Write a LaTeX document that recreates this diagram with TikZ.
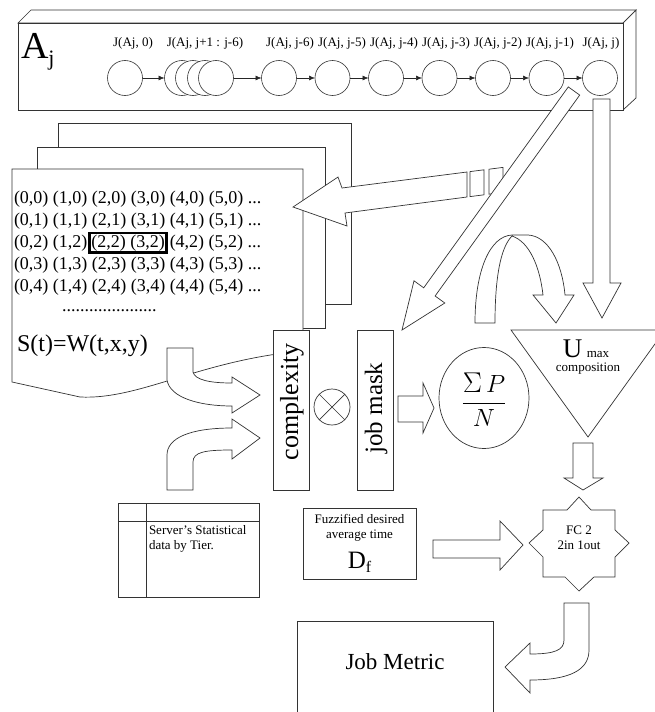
\documentclass[tikz,border=0pt]{standalone}
\usepackage{fontspec}
\setmainfont{Liberation Serif}
\usetikzlibrary{arrows.meta,shapes.geometric}
\begin{document}
\begin{tikzpicture}[x=1pt,y=-1pt,
  every node/.style={inner sep=0pt, outer sep=0pt},
  shp/.style={draw=black!80, line width=0.7pt, fill=white, line join=miter},
  jc/.style={circle, draw=black!80, line width=0.6pt, fill=white, minimum size=35pt},
  jl/.style={font=\fontsize{13}{13}\selectfont},
  small/.style={font=\fontsize{13}{15}\selectfont},
  row/.style={anchor=base west, font=\fontsize{18}{22}\selectfont},
  jarr/.style={-{Latex[length=6pt,width=5pt]}, line width=0.6pt, draw=black!85}
]
\useasboundingbox (0,0) rectangle (655,712);

% ---------- top box A_j ----------
\draw[shp] (18,23) -- (31,10) -- (636,10) -- (623,23) -- cycle;
\draw[shp] (623,23) -- (636,10) -- (636,98) -- (623,110) -- cycle;
\node[shp, minimum width=605pt, minimum height=87pt] (abox) at (320.5,66.5) {};
\node[anchor=base west, font=\fontsize{38}{38}\selectfont] (aj) at (21,58) {A\raisebox{-7pt}{\fontsize{22}{22}\selectfont j}};

\node[jc] (n0) at (125,78) {};
\node[jc] (s1) at (182,78) {};
\node[jc] (s2) at (193,78) {};
\node[jc] (s3) at (205,78) {};
\node[jc] (s4) at (216,78) {};
\node[jc] (m6) at (279,78) {};
\node[jc] (m5) at (332.5,78) {};
\node[jc] (m4) at (386,78) {};
\node[jc] (m3) at (439.5,78) {};
\node[jc] (m2) at (493,78) {};
\node[jc] (m1) at (546.5,78) {};
\node[jc] (mj) at (600,78) {};

\draw[jarr] (n0) -- (s1);
\draw[jarr] (s4) -- (m6);
\draw[jarr] (m6) -- (m5);
\draw[jarr] (m5) -- (m4);
\draw[jarr] (m4) -- (m3);
\draw[jarr] (m3) -- (m2);
\draw[jarr] (m2) -- (m1);
\draw[jarr] (m1) -- (mj);

\node[jl] (l0) at (133,43) {J(Aj, 0)};
\node[jl] (ls) at (205,43) {J(Aj, j+1 : j-6)};
\node[jl] (l6) at (290,43) {J(Aj, j-6)};
\node[jl] (l5) at (342,43) {J(Aj, j-5)};
\node[jl] (l4) at (394,43) {J(Aj, j-4)};
\node[jl] (l3) at (446,43) {J(Aj, j-3)};
\node[jl] (l2) at (498,43) {J(Aj, j-2)};
\node[jl] (l1) at (550,43) {J(Aj, j-1)};
\node[jl] (lj) at (601,43) {J(Aj, j)};

% ---------- stacked pages ----------
\draw[shp] (58,123) rectangle (351,304);
\draw[shp] (37,147) rectangle (325,328);
\draw[shp] (12,169) -- (303,169) -- (303,351) .. controls (200,360) and (140,400) .. (80,397) -- (12,382) -- cycle;

\node[row] (r0) at (14,203) {(0,0) (1,0) (2,0) (3,0) (4,0) (5,0) ...};
\node[row] (r1) at (14,225) {(0,1) (1,1) (2,1) (3,1) (4,1) (5,1) ...};
\node[row] (r2) at (14,247) {(0,2) (1,2)\hspace{1pt}{\setlength\fboxsep{0.3pt}\setlength\fboxrule{2.6pt}\fbox{(2,2) (3,2)}}\hspace{2pt}(4,2) (5,2) ...};
\node[row] (r3) at (14,269) {(0,3) (1,3) (2,3) (3,3) (4,3) (5,3) ...};
\node[row] (r4) at (14,291) {(0,4) (1,4) (2,4) (3,4) (4,4) (5,4) ...};
\node[row] (dots) at (62,311) {.....................};
\node[anchor=base west, font=\fontsize{24}{24}\selectfont] (st) at (17,351) {S(t)=W(t,x,y)};

% ---------- left-pointing arrow to the pages ----------
\draw[shp] (467,172) -- (342,188) -- (338,177) -- (293,207) -- (347,226) -- (345,213) -- (467,197) -- cycle;
\draw[shp] (470,171.6) -- (484,169.8) -- (484,194.8) -- (470,196.6) -- cycle;
\draw[shp] (489,169.2) -- (503,167.4) -- (503,192.4) -- (489,194.2) -- cycle;

% ---------- diagonal arrow ----------
\draw[shp] (568.3,86.9) -- (579.7,95.1) -- (435.1,296.0) -- (444.8,303.0) -- (402,330) -- (414.0,280.8) -- (423.7,287.8) -- cycle;

% ---------- vertical arrow ----------
\draw[shp] (593,99) -- (610,99) -- (610,283) -- (621,283) -- (602,318) -- (583,283) -- (593,283) -- cycle;

% ---------- U-turn arrow ----------
\draw[shp] (475,323) .. controls (475,270) and (490,236) .. (512,235) -- (528,235)
  .. controls (548,236) and (562,262) .. (565,295) -- (574,295) -- (556,323) -- (533,295) -- (543,295)
  .. controls (540,268) and (530,242) .. (512,236)
  .. controls (500,248) and (495,280) .. (495,323) -- cycle;

% ---------- complexity / job mask ----------
\node[shp, minimum width=36pt, minimum height=160pt] (cx) at (291,410) {};
\node[rotate=90, font=\fontsize{26}{26}\selectfont] (cxt) at (292,402) {complexity};
\node[shp, minimum width=36pt, minimum height=160pt] (jm) at (375,410) {};
\node[rotate=90, font=\fontsize{25}{25}\selectfont] (jmt) at (376,408) {job mask};
\node[circle, draw=black!80, line width=0.7pt, minimum size=36pt] (ot) at (332,407) {};
\draw[line width=0.7pt, draw=black!80] (ot.north west) -- (ot.south east) (ot.north east) -- (ot.south west);

% ---------- curved arrows into complexity ----------
\draw[shp] (167,348) -- (167,380) .. controls (170,398) and (200,406) .. (232,406) -- (232,413) -- (260,395) -- (232,377) -- (232,383)
  .. controls (210,383) and (195,380) .. (193,372) -- (193,348) -- cycle;
\draw[shp] (167,490) -- (167,455) .. controls (167,438) and (190,428) .. (232,428) -- (232,419) -- (260,438) -- (232,459) -- (232,450)
  .. controls (205,450) and (193,452) .. (193,462) -- (193,490) -- cycle;

% ---------- job mask -> sum ----------
\draw[shp] (398,396) -- (423,396) -- (423,383) -- (434,408) -- (423,433) -- (423,422) -- (398,422) -- cycle;
\node[ellipse, draw=black!80, line width=0.7pt, minimum width=90pt, minimum height=101pt] (sum) at (484,398) {};
\node[font=\fontsize{26}{30}\selectfont] (sumt) at (484,400) {$\displaystyle\frac{\scalebox{1.15}{$\Sigma$}\,P}{N}$};

% ---------- U max triangle ----------
\draw[shp] (511,330) -- (665,330) -- (588,437) -- cycle;
\node[anchor=base, font=\fontsize{27}{27}\selectfont] (umax) at (586,357) {U\,{\fontsize{13}{13}\selectfont max}};
\node[small] (comp) at (588,369) {composition};

% ---------- triangle -> FC2 ----------
\draw[shp] (573,443) -- (593,443) -- (593,478) -- (603,478) -- (583,490) -- (564,478) -- (573,478) -- cycle;

% ---------- FC 2 ----------
\draw[shp] (543,510) -- (567,510) -- (579,497) -- (591,510) -- (615,510) -- (615,530) -- (629,543) -- (615,557)
  -- (615,577) -- (594,577) -- (579,591) -- (565,577) -- (543,577) -- (543,557) -- (529,543) -- (543,530) -- cycle;
\node[small, align=center] (fc) at (579,538) {FC 2\\2in 1out};

% ---------- FC2 -> Job Metric ----------
\draw[shp] (564,603) -- (589,603) -- (589,650) .. controls (589,670) and (570,680) .. (530,680) -- (530,693) -- (505,667)
  -- (530,643) -- (530,654) .. controls (555,654) and (564,650) .. (564,640) -- cycle;

% ---------- Job Metric ----------
\draw[shp] (297,714) -- (297,621) -- (493,621) -- (493,714);
\node[font=\fontsize{23}{23}\selectfont] (jmet) at (395,662) {Job Metric};

% ---------- Df box ----------
\node[shp, minimum width=113pt, minimum height=71pt] (df) at (359.5,543.5) {};
\node[small, align=center] (dft) at (359.5,528) {Fuzzified desired\\average time};
\node[anchor=base, font=\fontsize{25}{25}\selectfont] (dfd) at (359.5,568) {D\raisebox{-4pt}{\fontsize{16}{16}\selectfont f}};
\draw[shp] (433,540) -- (500,540) -- (500,521) -- (523,545) -- (500,570) -- (500,558) -- (433,558) -- cycle;

% ---------- Server table ----------
\draw[shp] (118,503) rectangle (259,597);
\draw[draw=black!80, line width=0.7pt] (146,503) -- (146,597) (118,521) -- (259,521);
\node[small, anchor=north west, align=left] (srv) at (149,525) {Server’s Statistical\\data by Tier.};

\end{tikzpicture}
\end{document}
